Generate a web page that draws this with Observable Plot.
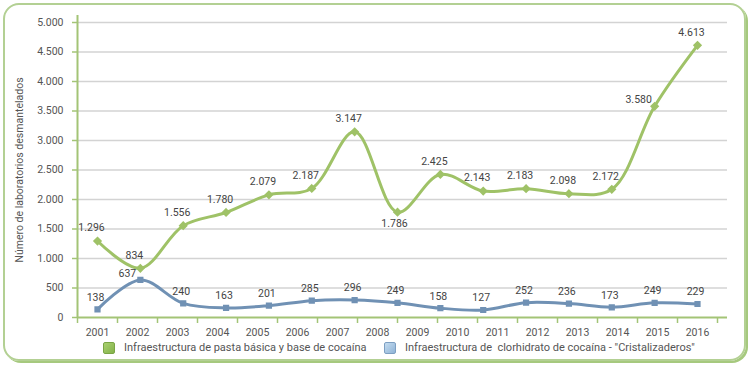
<!DOCTYPE html>
<html>
<head>
<meta charset="utf-8">
<script src="https://cdn.jsdelivr.net/npm/d3@7"></script>
<script src="https://cdn.jsdelivr.net/npm/@observablehq/plot@0.6"></script>
<style>
  html, body { margin: 0; padding: 0; background: #fff; }
  #wrap { position: relative; width: 750px; height: 365px; overflow: hidden; font-family: Roboto, "Open Sans", sans-serif; }
  #frame { position: absolute; left: 3px; top: 3px; width: 739px; height: 354px; border: 2px solid #b3d093; border-radius: 16px; box-shadow: 2px 2px 0 #a6c97e; }
  #chart { position: absolute; left: 0; top: 0; }
  #legend { position: absolute; top: 341px; left: 0; width: 750px; font-size: 11px; color: #555; }
  .item { position: absolute; top: 0; display: flex; align-items: center; white-space: pre; }
  .sw { width: 10px; height: 10px; border-radius: 2px; margin-right: 9px; }
</style>
</head>
<body>
<div id="wrap">
  <div id="frame"></div>
  <div id="chart"></div>
  <div id="legend"></div>
</div>
<script>
// ---- data ----
const yearLabels = [2001, 2002, 2003, 2004, 2005, 2006, 2007, 2008, 2009, 2010, 2011, 2012, 2013, 2014, 2015, 2016];
const pastaBasica = [1296, 834, 1556, 1780, 2079, 2187, 3147, 1786, 2425, 2143, 2183, 2098, 2172, 3580, 4613];
const cristalizaderos = [138, 637, 240, 163, 201, 285, 296, 249, 158, 127, 252, 236, 173, 249, 229];
const yTicks = [0, 500, 1000, 1500, 2000, 2500, 3000, 3500, 4000, 4500, 5000];
const seriesNames = ["Infraestructura de pasta básica y base de cocaína", "Infraestructura de  clorhidrato de cocaína - \"Cristalizaderos\""];

// ---- styling ----
const green = "#9fc267";
const blue = "#7091b4";
const axisGreen = "#a3c476";
const fmt = d3.formatLocale({decimal: ",", thousands: ".", grouping: [3]}).format(",d");
// label placement (style only): default offsets per series, with a few special cases
const labelStyle = {
  0: {dx: -6, dy: -13, special: {7: [-3, 11], 13: [-16, -7]}},
  1: {dx: -2, dy: -12, special: {1: [-13, -6]}}
};

// the 15 values are spread over the span of the 16 year labels, as in the original
const first = yearLabels[0], last = yearLabels[yearLabels.length - 1];
const toRows = (vals, series) => vals.map((v, i) => ({x: first + i * (last - first) / (vals.length - 1), v, i, series}));
const gRows = toRows(pastaBasica, 0);
const bRows = toRows(cristalizaderos, 1);
const slotEdges = d3.range(first - 0.5, last + 1, 1);

function labelMarks(rows, s) {
  const st = labelStyle[s];
  const normal = rows.filter(d => !(d.i in st.special));
  const marks = [Plot.text(normal, {x: "x", y: "v", text: d => fmt(d.v), dx: st.dx, dy: st.dy, fill: "#444", fontSize: 10.5})];
  for (const [k, [dx, dy]] of Object.entries(st.special)) {
    marks.push(Plot.text(rows.filter(d => d.i === +k), {x: "x", y: "v", text: d => fmt(d.v), dx, dy, fill: "#444", fontSize: 10.5}));
  }
  return marks;
}

const plot = Plot.plot({
  width: 750,
  height: 338,
  marginLeft: 77,
  marginRight: 23,
  marginTop: 22,
  marginBottom: 21,
  style: {fontFamily: "Roboto, 'Open Sans', sans-serif", fontSize: "10.5px", color: "#555", background: "transparent", overflow: "visible"},
  x: {type: "linear", domain: [first - 0.5, last + 0.75], axis: null},
  y: {domain: [0, 5000], axis: null},
  marks: [
    Plot.gridY(yTicks.filter(d => d > 0), {stroke: "#d3d3d3", strokeOpacity: 1, strokeWidth: 1.6}),
    Plot.axisY(yTicks, {tickSize: 5, tickPadding: 9, stroke: axisGreen, strokeWidth: 1.5, fill: "#555", tickFormat: fmt,
      label: "Número de laboratorios desmantelados", labelAnchor: "center", labelArrow: "none", labelOffset: 62}),
    Plot.axisX(slotEdges, {tickSize: 6, stroke: axisGreen, strokeWidth: 1.5, tickFormat: () => "", label: null}),
    Plot.axisX(yearLabels, {tickSize: 0, tickPadding: 11, fill: "#555", tickFormat: d => String(d), label: null}),
    Plot.ruleY([0], {stroke: axisGreen, strokeWidth: 2}),
    Plot.ruleX([first - 0.5], {y1: 0, y2: 5120, stroke: axisGreen, strokeWidth: 2}),
    Plot.line(gRows, {x: "x", y: "v", stroke: green, strokeWidth: 3, curve: "catmull-rom"}),
    Plot.line(bRows, {x: "x", y: "v", stroke: blue, strokeWidth: 3, curve: "catmull-rom"}),
    Plot.dot(gRows, {x: "x", y: "v", symbol: "diamond2", r: 3.2, fill: green, stroke: green}),
    Plot.dot(bRows, {x: "x", y: "v", symbol: "square2", r: 3, fill: blue, stroke: blue}),
    ...labelMarks(gRows, 0),
    ...labelMarks(bRows, 1)
  ]
});
document.getElementById("chart").appendChild(plot);

// legend
const legend = document.getElementById("legend");
const swatches = [
  {left: 103, bg: "linear-gradient(135deg,#a9d070,#84b24a)", border: "#7aa545"},
  {left: 384, bg: "linear-gradient(135deg,#c4dcf0,#8fb3d6)", border: "#7d9fc2"}
];
seriesNames.forEach((name, k) => {
  const it = document.createElement("div");
  it.className = "item";
  it.style.left = swatches[k].left + "px";
  const sw = document.createElement("span");
  sw.className = "sw";
  sw.style.background = swatches[k].bg;
  sw.style.border = "1px solid " + swatches[k].border;
  const tx = document.createElement("span");
  tx.textContent = name;
  it.appendChild(sw); it.appendChild(tx);
  legend.appendChild(it);
});
</script>
</body>
</html>
